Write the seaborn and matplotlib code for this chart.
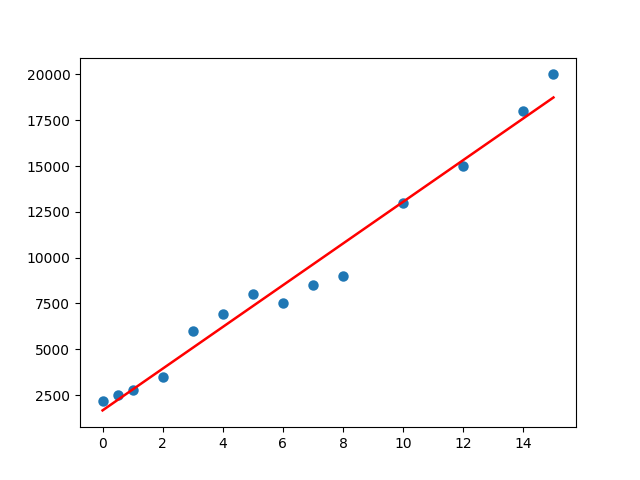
import matplotlib
matplotlib.use("Agg")
import matplotlib.pyplot as plt
import numpy as np
import seaborn as sns

# data
years = np.array([0, 0.5, 1, 2, 3, 4, 5, 6, 7, 8, 10, 12, 14, 15])
salary = np.array([2200, 2500, 2800, 3500, 6000, 6900, 8000, 7500,
                   8500, 9000, 13000, 15000, 18000, 20000])

# linear fit
slope, intercept = np.polyfit(years, salary, 1)
pred = slope * years + intercept

fig, ax = plt.subplots(figsize=(6.4, 4.8), dpi=100)
sns.scatterplot(x=years, y=salary, ax=ax, color="#1f77b4", s=36,
                edgecolor="#1f77b4", linewidth=1.5, zorder=1)
sns.lineplot(x=years, y=pred, ax=ax, color="red", linewidth=1.8, zorder=2)

fig.savefig("out.png")
